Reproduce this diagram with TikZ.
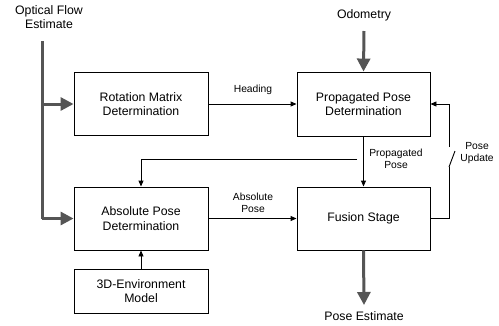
\documentclass[tikz,border=0pt]{standalone}
\usepackage{fontspec}
\setmainfont{Liberation Sans}
\usetikzlibrary{arrows.meta}
\definecolor{thickgray}{HTML}{555555}
\tikzset{
  blk/.style={draw=black, line width=0.9pt, minimum width=134pt, minimum height=63pt, inner sep=0pt, align=center, font=\fontsize{12.3}{14.3}\selectfont},
  lbl/.style={align=center, inner sep=0pt, font=\fontsize{12.3}{14.3}\selectfont},
  slbl/.style={align=center, inner sep=0pt, font=\fontsize{10.3}{12}\selectfont},
  fat/.style={draw=thickgray, line width=3pt, -{Triangle[length=13pt,width=13pt]}},
  fatline/.style={draw=thickgray, line width=3pt},
  thin/.style={draw=black, line width=0.9pt, -{Triangle[length=6pt,width=5pt]}},
  thinline/.style={draw=black, line width=0.9pt}
}
\begin{document}
\begin{tikzpicture}[x=1pt,y=-1pt]
\useasboundingbox (0,0) rectangle (499,325);
% boxes
\node[blk] (rot) at (141,104) {Rotation Matrix\\Determination};
\node[blk, minimum width=133pt, minimum height=64pt] (prop) at (363.5,104) {Propagated Pose\\Determination};
\node[blk] (abs) at (141,218.5) {Absolute Pose\\Determination};
\node[blk, minimum height=44pt] (env) at (141,291) {3D-Environment\\Model};
\node[blk, minimum width=133pt] (fus) at (363.5,218.5) {Fusion Stage};
% labels
\node[lbl] (oflab) at (49,17) {Optical Flow\\Estimate};
\node[lbl] (odolab) at (364,15) {Odometry};
\node[lbl] (pelab) at (364,316) {Pose Estimate};
\node[slbl] (headlab) at (253,90) {Heading};
\node[slbl] (proplab) at (396,159) {Propagated\\Pose};
\node[slbl] (abslab) at (253,203) {Absolute\\Pose};
\node[slbl] (updlab) at (477,153) {Pose\\Update};
% coordinates
\coordinate (oftop) at (42,41);
\coordinate (ofbr) at (42,104);
\coordinate (ofbot) at (42,218.5);
\coordinate (odotop) at (364,31);
\coordinate (pebot) at (364,305);
\coordinate (pbr) at (357,159);
\coordinate (pbrc) at (141,159);
\coordinate (swlow) at (449,167);
\coordinate (swtip) at (455,151);
\coordinate (swhigh) at (449,147);
% thick flows
\draw[fatline] (oftop) -- (ofbot);
\draw[fat] (ofbot) -- (abs.west);
\draw[fat] (ofbr) -- (rot.west);
\draw[fat] (odotop) -- (prop.north);
\draw[fat] (fus.south) -- (pebot);
% thin connectors
\draw[thin] (rot.east) -- (prop.west);
\draw[thin] (abs.east) -- (fus.west);
\draw[thin] (prop.south) -- (fus.north);
\draw[thin] (pbr) -- (pbrc) -- (abs.north);
\draw[thin] (env.north) -- (abs.south);
\draw[thinline] (fus.east) -| (swlow);
\draw[thinline] (swlow) -- (swtip);
\draw[thin] (swhigh) |- (prop.east);
\end{tikzpicture}
\end{document}
